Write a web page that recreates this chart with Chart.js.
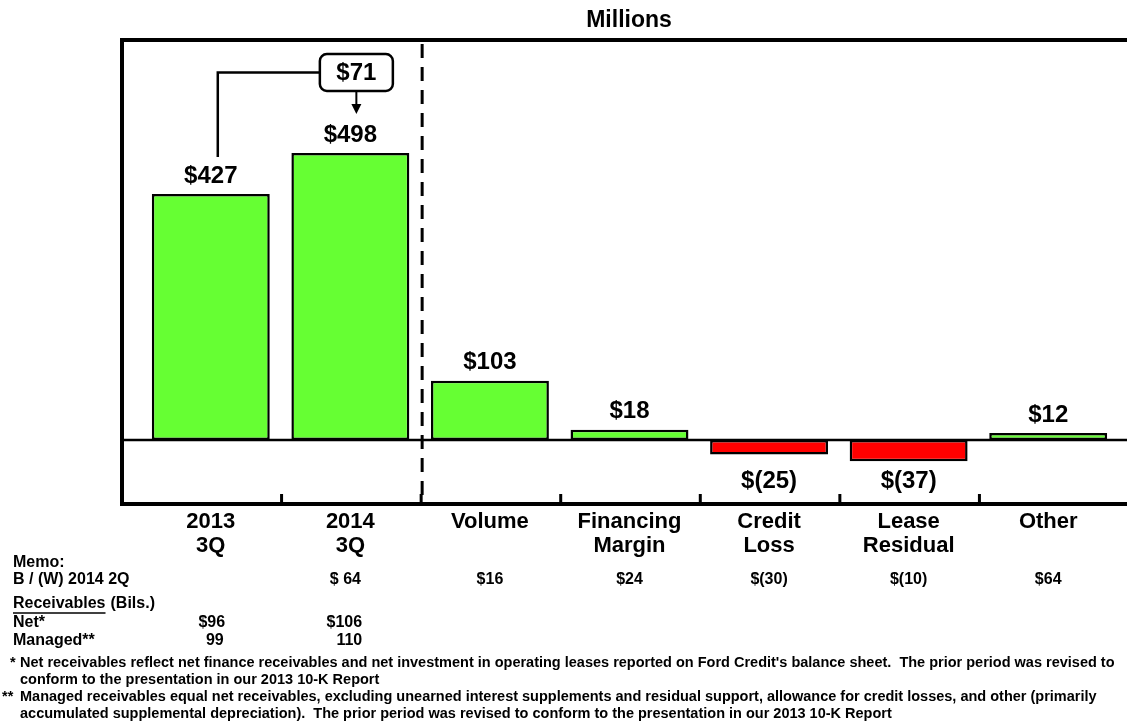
<!DOCTYPE html>
<html>
<head>
<meta charset="utf-8">
<script src="https://cdn.jsdelivr.net/npm/chart.js@4.4.1/dist/chart.umd.min.js"></script>
<style>
  body { margin: 0; background: #fff; }
  #wrap { width: 1127px; height: 723px; }
</style>
</head>
<body>
<div id="wrap"><canvas id="fordChart" width="1127" height="723"></canvas></div>
<script>
// données
const categories = [['2013', '3Q'], ['2014', '3Q'], ['Volume'], ['Financing', 'Margin'], ['Credit', 'Loss'], ['Lease', 'Residual'], ['Other']];
const values = [427, 498, 103, 18, -25, -37, 12];
const valueLabels = ['$427', '$498', '$103', '$18', '$(25)', '$(37)', '$12'];
const changeLabel = '$71';
const memoBW = ['', '$ 64', '$16', '$24', '$(30)', '$(10)', '$64'];
const netReceivables = ['$96', '$106'];
const managedReceivables = ['99', '110'];
const footnotes = [
    ['*', "Net receivables reflect net finance receivables and net investment in operating leases reported on Ford Credit's balance sheet.  The prior period was revised to"],
    ['', 'conform to the presentation in our 2013 10-K Report'],
    ['**', 'Managed receivables equal net receivables, excluding unearned interest supplements and residual support, allowance for credit losses, and other (primarily'],
    ['', 'accumulated supplemental depreciation).  The prior period was revised to conform to the presentation in our 2013 10-K Report']
];

const FONT = '"Liberation Sans", Arial, sans-serif';
const GREEN = '#66FF33';
const RED = '#FF0000';

const decorPlugin = {
    id: 'decor',
    afterDatasetsDraw(chart) {
        const ctx = chart.ctx;
        const y = chart.scales.y;
        const x = chart.scales.x;
        const area = chart.chartArea;
        const bars = chart.getDatasetMeta(0).data;
        const y0 = y.getPixelForValue(0);

        ctx.save();
        // ligne zéro
        ctx.strokeStyle = '#000';
        ctx.lineWidth = 2.5;
        ctx.beginPath();
        ctx.moveTo(122, y0);
        ctx.lineTo(chart.width, y0);
        ctx.stroke();

        // séparateur pointillé
        const sepX = (x.getPixelForValue(1) + x.getPixelForValue(2)) / 2 + 2;
        ctx.lineWidth = 3;
        ctx.setLineDash([14, 9]);
        ctx.beginPath();
        ctx.moveTo(sepX, area.top + 4);
        ctx.lineTo(sepX, area.bottom);
        ctx.stroke();
        ctx.setLineDash([]);

        // cadre
        ctx.lineWidth = 4;
        ctx.strokeRect(122, area.top, chart.width + 10, area.bottom - area.top);

        // petits repères en bas
        ctx.lineWidth = 3;
        for (let i = 0; i < categories.length - 1; i++) {
            const tx = (x.getPixelForValue(i) + x.getPixelForValue(i + 1)) / 2 + 1;
            ctx.beginPath();
            ctx.moveTo(tx, area.bottom);
            ctx.lineTo(tx, area.bottom - 10);
            ctx.stroke();
        }

        // étiquettes de valeurs
        ctx.fillStyle = '#000';
        ctx.font = 'bold 24px ' + FONT;
        ctx.textAlign = 'center';
        ctx.textBaseline = 'middle';
        bars.forEach((bar, i) => {
            let ly;
            if (values[i] >= 0) {
                ly = bar.y - 18;
            } else {
                ly = y.getPixelForValue(-71);
            }
            ctx.fillText(valueLabels[i], bar.x, ly);
        });

        // boîte $71 et connecteur
        const bx = bars[1].x + 6;
        const boxW = 73, boxH = 37, boxTop = 54;
        ctx.lineWidth = 2.5;
        ctx.beginPath();
        ctx.moveTo(bars[0].x + 7, bars[0].y - 37);
        ctx.lineTo(bars[0].x + 7, boxTop + boxH / 2);
        ctx.lineTo(bx - boxW / 2, boxTop + boxH / 2);
        ctx.stroke();
        ctx.fillStyle = '#fff';
        ctx.beginPath();
        ctx.roundRect(bx - boxW / 2, boxTop, boxW, boxH, 7);
        ctx.fill();
        ctx.stroke();
        ctx.fillStyle = '#000';
        ctx.fillText(changeLabel, bx, boxTop + boxH / 2 + 1);
        ctx.lineWidth = 2;
        ctx.beginPath();
        ctx.moveTo(bx, boxTop + boxH);
        ctx.lineTo(bx, 106);
        ctx.stroke();
        ctx.beginPath();
        ctx.moveTo(bx - 5, 104);
        ctx.lineTo(bx + 5, 104);
        ctx.lineTo(bx, 114);
        ctx.closePath();
        ctx.fill();

        // titre
        ctx.font = 'bold 23px ' + FONT;
        ctx.fillText('Millions', 629, 21);

        // mémo
        ctx.font = 'bold 16px ' + FONT;
        ctx.textAlign = 'left';
        const mx = 13;
        ctx.fillText('Memo:', mx, 563);
        ctx.fillText('B / (W) 2014 2Q', mx, 580);
        ctx.fillText('Receivables', mx, 604);
        const rw = ctx.measureText('Receivables').width;
        ctx.fillText('(Bils.)', mx + rw + 5, 604);
        ctx.lineWidth = 1.3;
        ctx.beginPath();
        ctx.moveTo(mx, 613);
        ctx.lineTo(mx + rw, 613);
        ctx.stroke();
        ctx.fillText('Net*', mx, 623);
        ctx.fillText('Managed**', mx, 641);

        ctx.textAlign = 'center';
        memoBW.forEach((t, i) => {
            if (t) ctx.fillText(t, x.getPixelForValue(i) + (i === 1 ? -5 : 0), 580);
        });
        netReceivables.forEach((t, i) => {
            ctx.fillText(t, x.getPixelForValue(i) + (i === 0 ? 1 : -6), 623);
        });
        managedReceivables.forEach((t, i) => {
            ctx.fillText(t, x.getPixelForValue(i) + (i === 0 ? 4 : -1), 641);
        });

        // notes de bas de page
        const fy = [663, 680, 697, 714];
        ctx.textAlign = 'left';
        ctx.font = 'bold 14.5px ' + FONT;
        footnotes.forEach((f, i) => {
            if (f[0] === '*') ctx.fillText('*', 10, fy[i]);
            if (f[0] === '**') ctx.fillText('**', 2, fy[i]);
            ctx.fillText(f[1], 20, fy[i], 1098);
        });
        ctx.restore();
    }
};

new Chart(document.getElementById('fordChart'), {
    type: 'bar',
    data: {
        labels: categories,
        datasets: [{
            data: values,
            backgroundColor: values.map(v => v >= 0 ? GREEN : RED),
            borderColor: '#000',
            borderWidth: 2.5,
            borderSkipped: false,
            barPercentage: 0.845,
            categoryPercentage: 1.0
        }]
    },
    options: {
        responsive: false,
        animation: false,
        layout: {
            padding: { left: 141, right: 9, top: 40, bottom: 0 }
        },
        scales: {
            x: {
                grid: { display: false, drawTicks: false },
                border: { display: false },
                ticks: {
                    color: '#000',
                    padding: 6,
                    maxRotation: 0,
                    autoSkip: false,
                    font: { family: FONT, size: 22, weight: 'bold', lineHeight: 1.08 }
                },
                afterFit: (scale) => { scale.height = 219; }
            },
            y: {
                display: false,
                min: -111,
                max: 694
            }
        },
        plugins: {
            legend: { display: false },
            tooltip: { enabled: false }
        }
    },
    plugins: [decorPlugin]
});
</script>
</body>
</html>
